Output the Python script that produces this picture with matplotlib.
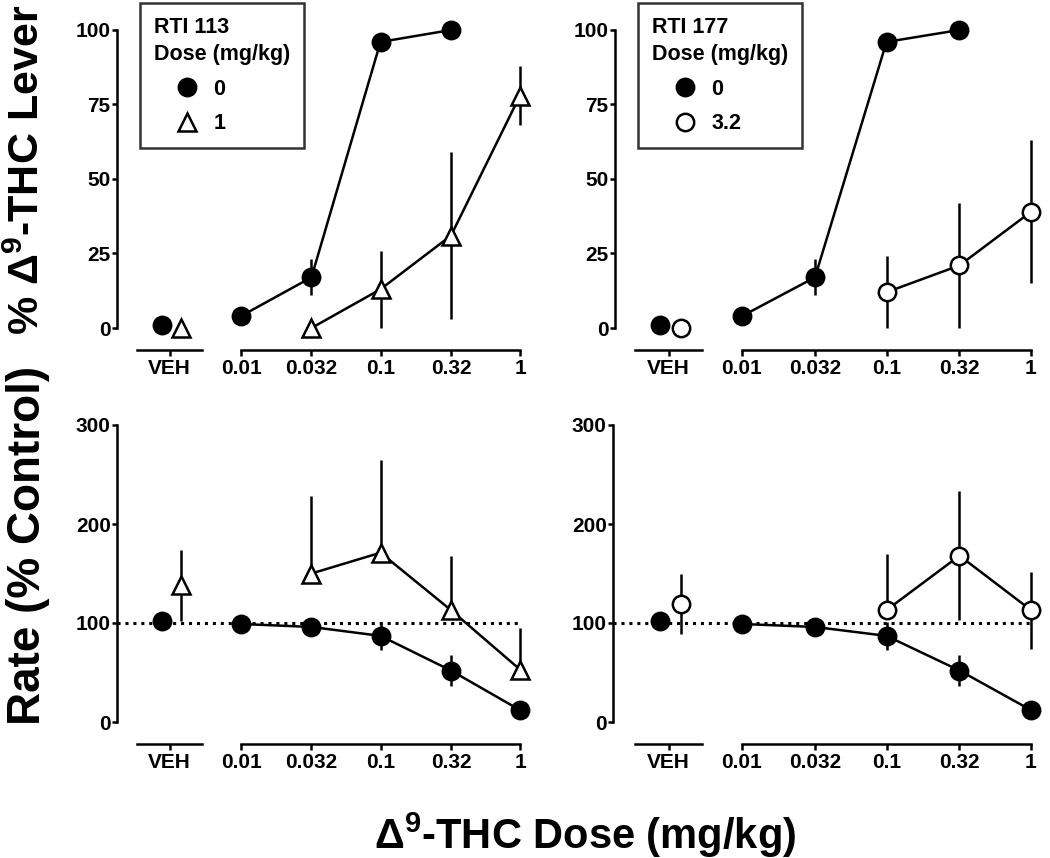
import matplotlib
matplotlib.use('Agg')
import matplotlib.pyplot as plt
from matplotlib.lines import Line2D
import numpy as np

plt.rcParams['font.family'] = ['Liberation Sans', 'DejaVu Sans']
plt.rcParams['font.weight'] = 'bold'
plt.rcParams['mathtext.fontset'] = 'custom'
plt.rcParams['mathtext.rm'] = 'Liberation Sans:bold'
plt.rcParams['mathtext.bf'] = 'Liberation Sans:bold'
plt.rcParams['mathtext.it'] = 'Liberation Sans:bold'

# Datos
doses = [0.01, 0.032, 0.1, 0.32, 1]
dose_labels = ['0.01', '0.032', '0.1', '0.32', '1']

# % drug-lever responding, 0 mg/kg (control)
ctrl_lever_doses = [0.01, 0.032, 0.1, 0.32]
ctrl_lever = [4, 17, 96, 100]
ctrl_lever_err = [2, 6, 2, 0]
ctrl_lever_veh = 1

# RTI 113 1 mg/kg
rti113_lever_doses = [0.032, 0.1, 0.32, 1]
rti113_lever = [0, 13, 31, 78]
rti113_lever_err = [0, 13, 28, 10]
rti113_lever_veh = 0

# RTI 177 3.2 mg/kg
rti177_lever_doses = [0.1, 0.32, 1]
rti177_lever = [12, 21, 39]
rti177_lever_err = [12, 21, 24]
rti177_lever_veh = 0

# Rate (% control)
ctrl_rate = [99, 96, 87, 52, 12]
ctrl_rate_err = [2, 3, 14, 16, 2]
ctrl_rate_veh = 102

rti113_rate_doses = [0.032, 0.1, 0.32, 1]
rti113_rate = [150, 171, 113, 53]
rti113_rate_lo = [0, 0, 0, 0]
rti113_rate_hi = [78, 94, 55, 42]
rti113_rate_veh = 138
rti113_rate_veh_err = 36

rti177_rate_doses = [0.1, 0.32, 1]
rti177_rate = [113, 168, 113]
rti177_rate_lo = [0, 65, 39]
rti177_rate_hi = [57, 65, 39]
rti177_rate_veh = 119
rti177_rate_veh_err = 30

W, H = 1050, 858
fig = plt.figure(figsize=(W / 100, H / 100), dpi=100)

LW = 1.8
MS = 12.5
TICK_FS = 15


def box(x0, x1, ytop, ybot):
    return [x0 / W, 1 - ybot / H, (x1 - x0) / W, (ybot - ytop) / H]


def make_panel(yaxis_x, veh_span, dose_span, ytop, ybot, ymax, ystep):
    ax = fig.add_axes(box(yaxis_x, dose_span[1], ytop, ybot))
    ax.set_xlim(0, 1)
    ax.set_ylim(0, ymax)
    ax.patch.set_visible(False)
    for s in ['top', 'right', 'bottom']:
        ax.spines[s].set_visible(False)
    ax.spines['left'].set_linewidth(LW)
    ax.set_xticks([])
    ax.set_yticks(np.arange(0, ymax + 1, ystep))
    ax.tick_params(axis='y', length=3.5, width=LW, pad=1, labelsize=TICK_FS)

    axv = fig.add_axes(box(veh_span[0], veh_span[1], ytop, ybot), sharey=ax)
    axd = fig.add_axes(box(dose_span[0], dose_span[1], ytop, ybot), sharey=ax)
    axv.set_xlim(0, 1)
    axv.set_xticks([0.5])
    axv.set_xticklabels(['VEH'])
    axd.set_xscale('log')
    axd.set_xlim(doses[0], doses[-1])
    axd.set_xticks(doses)
    axd.set_xticklabels(dose_labels)
    axd.xaxis.set_minor_locator(matplotlib.ticker.NullLocator())
    for a in (axv, axd):
        a.patch.set_visible(False)
        for s in ['top', 'right', 'left']:
            a.spines[s].set_visible(False)
        a.spines['bottom'].set_position(('outward', 15.5))
        a.spines['bottom'].set_linewidth(LW)
        a.tick_params(axis='x', length=4, width=LW, pad=3, labelsize=TICK_FS)
        a.tick_params(axis='y', left=False, labelleft=False)
    return ax, axv, axd


def series(a, x, y, lo, hi, filled, marker, z):
    mfc = 'black' if filled else 'white'
    c = a.errorbar(x, y, yerr=[lo, hi], fmt='-' + marker, color='black',
                   mfc=mfc, mec='black', ms=MS, mew=LW, lw=LW,
                   elinewidth=LW, capsize=0, zorder=z)
    for art in c.get_children():
        art.set_clip_on(False)


def point(a, x, y, lo, hi, filled, marker, z):
    series(a, [x], [y], [lo], [hi], filled, marker, z)


veh_ctrl_x = 0.38
veh_drug_x = 0.68

panels = [
    dict(yaxis_x=117, veh_span=(137, 202), dose_span=(241, 520), ytop=30, ybot=328, ymax=100, ystep=25),
    dict(yaxis_x=615, veh_span=(635, 702), dose_span=(742, 1031), ytop=30, ybot=328, ymax=100, ystep=25),
    dict(yaxis_x=117, veh_span=(137, 202), dose_span=(241, 520), ytop=425, ybot=722, ymax=300, ystep=100),
    dict(yaxis_x=613, veh_span=(635, 702), dose_span=(742, 1031), ytop=425, ybot=722, ymax=300, ystep=100),
]
axes = [make_panel(**p) for p in panels]

# Top left: RTI 113 lever
ax, axv, axd = axes[0]
point(axv, veh_ctrl_x, ctrl_lever_veh, 0, 0, True, 'o', 3)
point(axv, veh_drug_x, rti113_lever_veh, 0, 0, False, '^', 4)
series(axd, ctrl_lever_doses, ctrl_lever, ctrl_lever_err, ctrl_lever_err, True, 'o', 3)
series(axd, rti113_lever_doses, rti113_lever, rti113_lever_err, rti113_lever_err, False, '^', 4)

# Top right: RTI 177 lever
ax, axv, axd = axes[1]
point(axv, veh_ctrl_x, ctrl_lever_veh, 0, 0, True, 'o', 3)
point(axv, veh_drug_x, rti177_lever_veh, 0, 0, False, 'o', 4)
series(axd, ctrl_lever_doses, ctrl_lever, ctrl_lever_err, ctrl_lever_err, True, 'o', 3)
series(axd, rti177_lever_doses, rti177_lever, rti177_lever_err, rti177_lever_err, False, 'o', 4)

# Bottom left: RTI 113 rate
ax, axv, axd = axes[2]
ax.axhline(100, color='black', lw=2.2, ls=(0, (1, 1.6)), zorder=1)
point(axv, veh_ctrl_x, ctrl_rate_veh, 0, 0, True, 'o', 3)
point(axv, veh_drug_x, rti113_rate_veh, rti113_rate_veh_err, rti113_rate_veh_err, False, '^', 4)
series(axd, doses, ctrl_rate, ctrl_rate_err, ctrl_rate_err, True, 'o', 3)
series(axd, rti113_rate_doses, rti113_rate, rti113_rate_lo, rti113_rate_hi, False, '^', 4)

# Bottom right: RTI 177 rate
ax, axv, axd = axes[3]
ax.axhline(100, color='black', lw=2.2, ls=(0, (1, 1.6)), zorder=1)
point(axv, veh_ctrl_x, ctrl_rate_veh, 0, 0, True, 'o', 3)
point(axv, veh_drug_x, rti177_rate_veh, rti177_rate_veh_err, rti177_rate_veh_err, False, 'o', 4)
series(axd, doses, ctrl_rate, ctrl_rate_err, ctrl_rate_err, True, 'o', 3)
series(axd, rti177_rate_doses, rti177_rate, rti177_rate_lo, rti177_rate_hi, False, 'o', 4)

# Leyendas
def add_legend(ax, title, drug_label, drug_marker, x_px):
    handles = [
        Line2D([], [], ls='none', marker='o', color='black', mfc='black', ms=MS, mew=LW),
        Line2D([], [], ls='none', marker=drug_marker, color='black', mfc='white', ms=MS, mew=LW),
    ]
    leg = ax.legend(handles, ['0', drug_label], title=title, loc='upper left',
                    bbox_to_anchor=(x_px / W, 1 - 3 / H), bbox_transform=fig.transFigure,
                    borderaxespad=0, frameon=True, fancybox=False, edgecolor='black',
                    fontsize=15.5, title_fontsize=15.5, alignment='left',
                    handlelength=3.1, handletextpad=-0.35, labelspacing=0.62,
                    borderpad=0.65)
    leg.get_frame().set_linewidth(LW)
    leg.get_title().set_fontweight('bold')
    leg.get_title().set_linespacing(1.4)


add_legend(axes[0][0], 'RTI 113\nDose (mg/kg)', '1', '^', 140)
add_legend(axes[1][0], 'RTI 177\nDose (mg/kg)', '3.2', 'o', 638)

# Etiquetas
fig.text(28 / W, 1 - 170 / H, r'% $\Delta^{9}$-THC Lever', rotation=90,
         ha='center', va='center', fontsize=31)
fig.text(28 / W, 1 - 545 / H, 'Rate (% Control)', rotation=90,
         ha='center', va='center', fontsize=33)
fig.text(585 / W, 1 - 835 / H, r'$\Delta^{9}$-THC Dose (mg/kg)',
         ha='center', va='center', fontsize=30)

fig.savefig('out.png', dpi=100)
